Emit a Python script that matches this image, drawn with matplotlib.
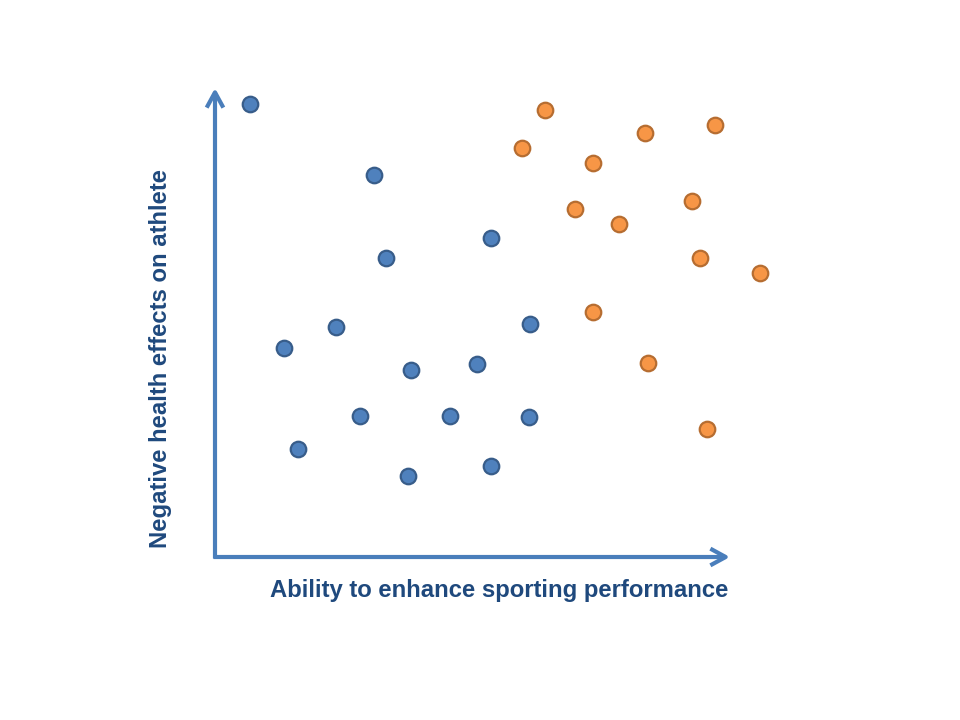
import matplotlib.pyplot as plt

# data (arbitrary units, origin at the axes corner)
blue_x = [0.70, 3.18, 5.52, 3.42, 2.42, 6.30, 1.38, 3.92, 5.24, 2.90, 4.70, 6.28, 1.66, 5.52, 3.86]
blue_y = [9.06, 7.64, 6.38, 5.98, 4.60, 4.66, 4.18, 3.74, 3.86, 2.82, 2.82, 2.80, 2.16, 1.82, 1.62]
orange_x = [6.60, 10.00, 8.60, 6.14, 7.56, 9.54, 7.20, 8.08, 9.70, 10.90, 7.56, 8.66, 9.84]
orange_y = [8.94, 8.64, 8.48, 8.18, 7.88, 7.12, 6.96, 6.66, 5.98, 5.68, 4.90, 3.88, 2.56]

xlabel = "Ability to enhance sporting performance"
ylabel = "Negative health effects on athlete"

plt.rcParams['font.family'] = ['Liberation Sans', 'DejaVu Sans']

fig = plt.figure(figsize=(9.6, 7.2), dpi=100)
ax = fig.add_axes([0, 0, 1, 1])
ax.set_xlim(-4.3, 14.9)
ax.set_ylim(-3.26, 11.14)
ax.axis('off')

arrow_col = '#4A7EBB'
style = '->,head_length=1.1,head_width=0.6'
ax.annotate('', xy=(10.3, 0), xytext=(-0.03, 0),
            arrowprops=dict(arrowstyle=style, color=arrow_col, lw=3,
                            shrinkA=0, shrinkB=0, capstyle='butt'))
ax.annotate('', xy=(0, 9.38), xytext=(0, -0.03),
            arrowprops=dict(arrowstyle=style, color=arrow_col, lw=3,
                            shrinkA=0, shrinkB=0, capstyle='butt'))

ax.scatter(blue_x, blue_y, s=125, color='#4F81BD', edgecolor='#385D8A', linewidth=1.6, zorder=3)
ax.scatter(orange_x, orange_y, s=125, color='#F79646', edgecolor='#B66D31', linewidth=1.6, zorder=3)

ax.text(5.69, -0.68, xlabel, ha='center', va='center', fontsize=17.2,
        fontweight='bold', color='#1F497D')
ax.text(-1.1, 3.98, ylabel, ha='center', va='center', rotation=90, fontsize=17.2,
        fontweight='bold', color='#1F497D')

fig.savefig('out.png', dpi=100)
